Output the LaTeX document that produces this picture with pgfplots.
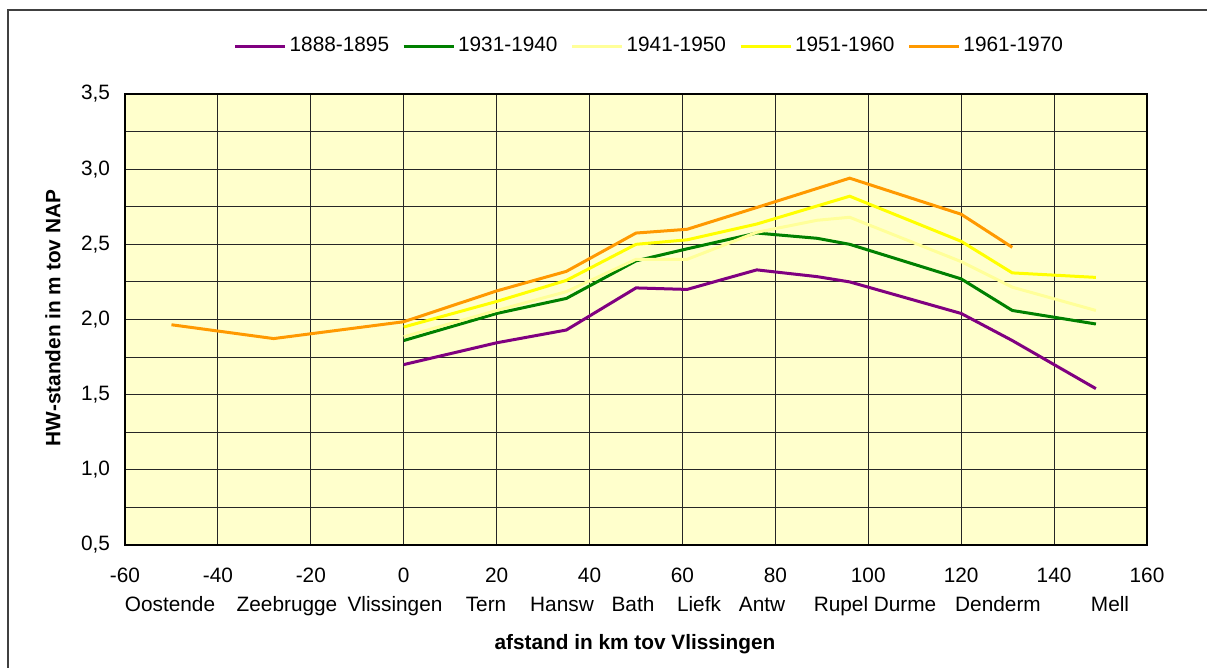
\documentclass[border=0pt]{standalone}
\usepackage{fontspec}
\setmainfont{Liberation Sans}
\usepackage{pgfplots}
\pgfplotsset{compat=1.18}

\definecolor{plotbg}{HTML}{FFFFCC}
\definecolor{c1888}{HTML}{800080}
\definecolor{c1931}{HTML}{008000}
\definecolor{c1941}{HTML}{FFFF99}
\definecolor{c1951}{HTML}{FFFF00}
\definecolor{c1961}{HTML}{FF9900}
\newcommand{\lblfont}{\fontsize{10.4}{12}\selectfont}

\begin{document}
\begin{tikzpicture}
\useasboundingbox (0,0) rectangle (603.5pt,334pt);
% chart frame (cut off right and bottom)
\draw[black!75, line width=0.8pt] (4pt,0pt) -- (4pt,329pt) -- (603.5pt,329pt);

\begin{axis}[
    at={(62.5pt,61.5pt)}, anchor=south west,
    scale only axis, width=511pt, height=225.5pt,
    xmin=-60, xmax=160, ymin=0.5, ymax=3.5,
    xtick distance=20, ytick distance=0.5, minor y tick num=1,
    grid=both,
    major grid style={black!85, line width=0.5pt},
    minor grid style={black!85, line width=0.5pt},
    major tick length=0pt, minor tick length=0pt,
    axis background/.style={fill=plotbg},
    axis line style={black, line width=0.6pt},
    tick label style={font=\lblfont},
    /pgf/number format/assume math mode=true,
    yticklabel style={/pgf/number format/.cd, fixed, fixed zerofill, precision=1, use comma, /tikz/.cd, xshift=-4pt},
    xticklabel style={yshift=-8pt},
    legend columns=5,
    legend style={at={(axis description cs:0.5135,1.1064)}, anchor=center,
        draw=none, fill=none, font=\lblfont, column sep=0pt,
        nodes={inner sep=1.5pt}},
    /tikz/every even column/.append style={column sep=5pt},
    legend image code/.code={\draw[#1] (0pt,0pt) -- (25pt,0pt);},
    every axis plot/.append style={line width=1.5pt, no markers},
]
\addplot[c1888] coordinates {(0,1.70) (20,1.845) (35,1.93) (50,2.21) (61,2.20) (76,2.33) (89,2.285) (96,2.25) (120,2.04) (131,1.86) (149,1.54)};
\addlegendentry{1888-1895}
\addplot[c1931] coordinates {(0,1.86) (20,2.04) (35,2.14) (50,2.39) (61,2.47) (76,2.575) (89,2.54) (96,2.50) (120,2.27) (131,2.06) (149,1.97)};
\addlegendentry{1931-1940}
\addplot[c1941] coordinates {(0,1.885) (20,2.06) (35,2.185) (50,2.40) (61,2.40) (76,2.58) (89,2.66) (96,2.68) (120,2.385) (131,2.215) (149,2.06)};
\addlegendentry{1941-1950}
\addplot[c1951] coordinates {(0,1.95) (20,2.12) (35,2.26) (50,2.50) (61,2.53) (76,2.635) (96,2.82) (120,2.52) (131,2.31) (149,2.28)};
\addlegendentry{1951-1960}
\addplot[c1961] coordinates {(-50,1.965) (-28,1.873) (0,1.985) (20,2.19) (35,2.32) (50,2.575) (61,2.60) (76,2.745) (96,2.94) (120,2.70) (131,2.48)};
\addlegendentry{1961-1970}
\end{axis}

% station names under the distance axis
\begin{scope}[every node/.style={font=\lblfont, inner sep=0pt, anchor=base}]
\node at (85pt,28pt) {Oostende};
\node at (143.5pt,28pt) {Zeebrugge};
\node at (197.5pt,28pt) {Vlissingen};
\node at (243pt,28pt) {Tern};
\node at (281pt,28pt) {Hansw};
\node at (316.5pt,28pt) {Bath};
\node at (349.5pt,28pt) {Liefk};
\node at (381pt,28pt) {Antw};
\node at (420.5pt,28pt) {Rupel};
\node at (452.5pt,28pt) {Durme};
\node at (499pt,28pt) {Denderm};
\node at (555pt,28pt) {Mell};
\node[font=\lblfont\bfseries] at (317.5pt,9pt) {afstand in km tov Vlissingen};
\node[font=\lblfont\bfseries, rotate=90, anchor=center] at (26.5pt,175pt) {HW-standen in m tov NAP};
\end{scope}
\end{tikzpicture}
\end{document}
